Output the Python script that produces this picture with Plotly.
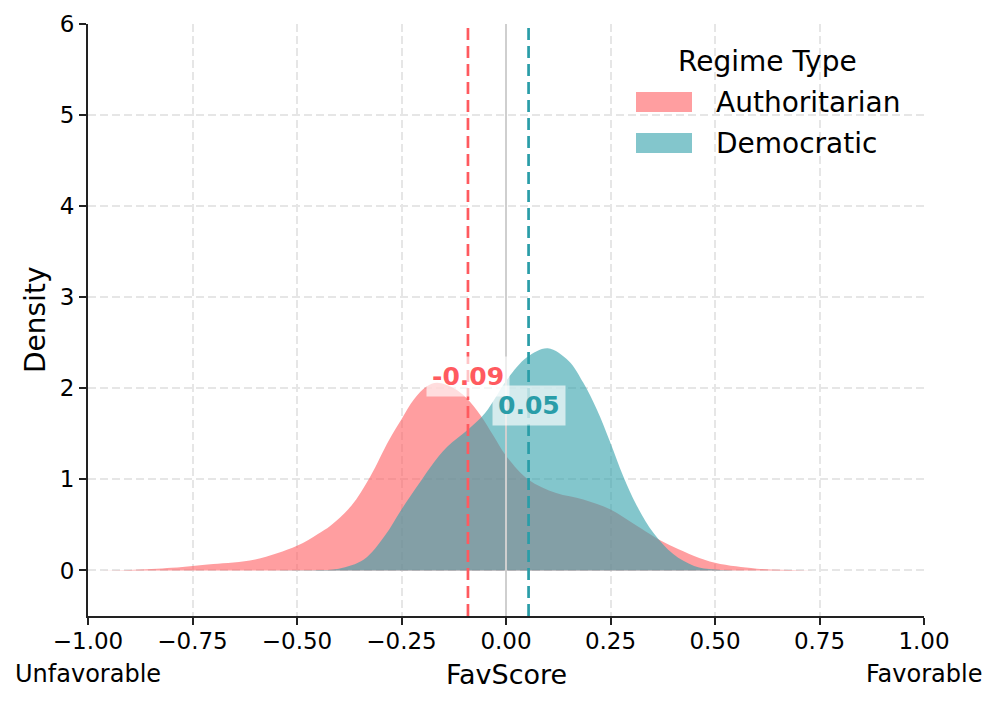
import plotly.graph_objects as go

# ---- data ----
auth_x = [-1.0, -0.9, -0.8, -0.75, -0.7, -0.6, -0.5, -0.45, -0.42, -0.37, -0.325, -0.28, -0.25,
          -0.22, -0.19, -0.165, -0.125, -0.094, -0.062, -0.03, 0.0, 0.053, 0.12, 0.185, 0.25,
          0.31, 0.37, 0.4, 0.45, 0.5, 0.55, 0.6, 0.7, 0.8]
auth_y = [0.0, 0.005, 0.03, 0.05, 0.07, 0.12, 0.27, 0.40, 0.49, 0.71, 1.03, 1.43, 1.66,
          1.88, 2.02, 2.06, 2.00, 1.89, 1.71, 1.48, 1.26, 1.00, 0.85, 0.78, 0.67,
          0.50, 0.33, 0.26, 0.16, 0.085, 0.045, 0.02, 0.003, 0.0]
demo_x = [-0.6, -0.5, -0.45, -0.4, -0.34, -0.29, -0.25, -0.21, -0.18, -0.14, -0.09, -0.05,
          -0.025, 0.0, 0.05, 0.1, 0.15, 0.185, 0.217, 0.25, 0.28, 0.313, 0.353, 0.4, 0.45,
          0.5, 0.6]
demo_y = [0.0, 0.002, 0.005, 0.02, 0.12, 0.38, 0.67, 0.94, 1.14, 1.36, 1.55, 1.73,
          1.90, 2.08, 2.34, 2.44, 2.30, 2.06, 1.77, 1.40, 1.04, 0.71, 0.41, 0.18, 0.05,
          0.01, 0.0]
series_names = ["Authoritarian", "Democratic"]
means = [-0.091, 0.054]
mean_labels = ["-0.09", "0.05"]
label_y = [2.13, 1.81]
x_ticks = [-1.0, -0.75, -0.5, -0.25, 0.0, 0.25, 0.5, 0.75, 1.0]
y_ticks = [0, 1, 2, 3, 4, 5, 6]
legend_title = "Regime Type"

line_colors = ["#FF5A5F", "#2A9DA8"]
fill_colors = ["rgba(255,93,96,0.6)", "rgba(48,160,170,0.6)"]

FONT = "DejaVu Sans"
OFF = 8  # page body margin
L, R, T, B = 88 - OFF, 73, 24 - OFF, 88
W, H = 997 - OFF, 704 - OFF
PW, PH = W - L - R, H - T - B


def px_to_paper(px, py):
    # page pixel -> paper coordinate
    return (px - OFF - L) / PW, (H - B - (py - OFF)) / PH


fig = go.Figure()
for xs, ys, name, fc in zip([auth_x, demo_x], [auth_y, demo_y], series_names, fill_colors):
    fig.add_trace(go.Scatter(
        x=xs, y=ys, name=name, mode="lines", fill="tozeroy", showlegend=False,
        fillcolor=fc, line=dict(width=0, shape="spline", smoothing=1.0, color=fc),
        hoverinfo="skip"))

shapes = [dict(type="line", xref="x", yref="paper", x0=0, x1=0, y0=0, y1=1,
               line=dict(color="#cfcfcf", width=2), layer="above")]
for m, c in zip(means, line_colors):
    shapes.append(dict(type="line", xref="x", yref="paper", x0=m, x1=m, y0=0, y1=1,
                       line=dict(color=c, width=2.7, dash="12px,6px"), layer="above"))

annotations = []
for m, lab, ly, c in zip(means, mean_labels, label_y, line_colors):
    annotations.append(dict(x=m, y=ly, xref="x", yref="y", text=f"<b>{lab}</b>",
                            showarrow=False, font=dict(family=FONT, size=25, color=c),
                            bgcolor="rgba(255,255,255,0.65)", borderpad=5))

# axis side texts
_, yb = px_to_paper(0, 674)
annotations.append(dict(x=0, y=yb, xref="paper", yref="paper", text="Unfavorable",
                        showarrow=False, xanchor="center", yanchor="middle",
                        font=dict(family=FONT, size=24, color="black")))
annotations.append(dict(x=1, y=yb, xref="paper", yref="paper", text="Favorable",
                        showarrow=False, xanchor="center", yanchor="middle",
                        font=dict(family=FONT, size=24, color="black")))
annotations.append(dict(x=0.5, y=yb, xref="paper", yref="paper", text="FavScore",
                        showarrow=False, xanchor="center", yanchor="middle",
                        font=dict(family=FONT, size=27, color="black")))
dx, dy = px_to_paper(35, 320)
annotations.append(dict(x=dx, y=dy, xref="paper", yref="paper", text="Density",
                        showarrow=False, xanchor="center", yanchor="middle", textangle=-90,
                        font=dict(family=FONT, size=28, color="black")))

# legend (drawn with swatches + text)
tx, ty = px_to_paper(767, 62)
annotations.append(dict(x=tx, y=ty, xref="paper", yref="paper", text=legend_title,
                        showarrow=False, xanchor="center", yanchor="middle",
                        font=dict(family=FONT, size=28, color="black")))
for i, (name, fc) in enumerate(zip(series_names, fill_colors)):
    cy = 102 + i * 41
    x0, y0 = px_to_paper(636, cy + 10)
    x1, y1 = px_to_paper(692, cy - 10)
    shapes.append(dict(type="rect", xref="paper", yref="paper", x0=x0, x1=x1, y0=y0, y1=y1,
                       fillcolor=fc, line=dict(width=0), layer="above"))
    lx, ly = px_to_paper(714, cy)
    annotations.append(dict(x=lx, y=ly, xref="paper", yref="paper", text=name,
                            showarrow=False, xanchor="left", yanchor="middle",
                            font=dict(family=FONT, size=28, color="black")))

fig.update_layout(
    width=W, height=H,
    margin=dict(l=L, r=R, t=T, b=B),
    plot_bgcolor="white", paper_bgcolor="white",
    font=dict(family=FONT, size=23, color="black"),
    shapes=shapes, annotations=annotations,
    showlegend=False,
)
axis_common = dict(
    showline=True, linecolor="#222222", linewidth=2,
    ticks="outside", ticklen=7, tickwidth=1.8, tickcolor="#222222",
    showgrid=True, gridcolor="#e6e6e6", griddash="8px,4px", gridwidth=1.5,
    zeroline=False, tickfont=dict(family=FONT, size=23, color="black"), automargin=False)
fig.update_xaxes(range=[-1, 1], tickvals=x_ticks, tickformat=".2f",
                 ticklabelstandoff=-4, **axis_common)
fig.update_yaxes(range=[-0.5, 6], tickvals=y_ticks, **axis_common)

fig.write_html("out.html")
